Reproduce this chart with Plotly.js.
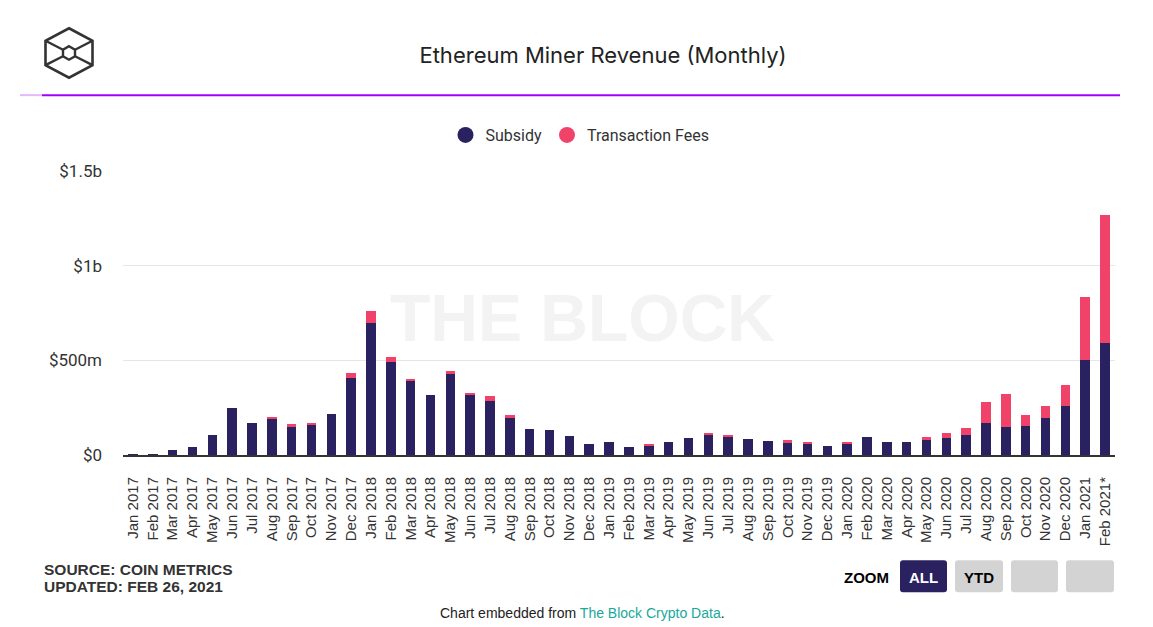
<!DOCTYPE html>
<html><head><meta charset="utf-8">
<script src="https://cdn.plot.ly/plotly-3.0.1.min.js"></script>
<style>html,body{margin:0;padding:0;background:#fff;overflow:hidden}#chart{width:1153px;height:627px}</style>
</head><body><div id="chart"></div>
<script>
// Monthly categories
const months = ["Jan 2017","Feb 2017","Mar 2017","Apr 2017","May 2017","Jun 2017","Jul 2017","Aug 2017","Sep 2017","Oct 2017","Nov 2017","Dec 2017",
"Jan 2018","Feb 2018","Mar 2018","Apr 2018","May 2018","Jun 2018","Jul 2018","Aug 2018","Sep 2018","Oct 2018","Nov 2018","Dec 2018",
"Jan 2019","Feb 2019","Mar 2019","Apr 2019","May 2019","Jun 2019","Jul 2019","Aug 2019","Sep 2019","Oct 2019","Nov 2019","Dec 2019",
"Jan 2020","Feb 2020","Mar 2020","Apr 2020","May 2020","Jun 2020","Jul 2020","Aug 2020","Sep 2020","Oct 2020","Nov 2020","Dec 2020",
"Jan 2021","Feb 2021*"];
// Subsidy revenue, USD millions
const subsidy = [5,5,28,44,105,247,168,193,153,161,217,405,
698,493,391,319,430,319,287,200,138,130,100,60,
68,44,51,68,91,105,98,84,76,68,60,46,
60,93,68,68,84,91,107,170,147,154,195,258,
504,589];
// Transaction fee revenue, USD millions
const fees = [0,0,0,0,0,0,0,8,10,9,0,27,
63,23,9,0,15,9,25,10,0,0,0,0,
0,0,9,0,0,11,9,0,0,9,8,0,
8,0,0,0,9,27,33,112,174,57,63,110,
329,679];
// Y axis ticks
const yTickVals = [0,500,1000,1500];
const yTickText = ["$0","$500m","$1b","$1.5b"];

const SUB_COLOR = "#2a2160", FEE_COLOR = "#f1426a";
const L=123, R=1115, T=171, B=455.5;
const px = x => (x-L)/(R-L);
const py = y => (B-y)/(B-T);

const traces = [
  {type:"bar", x:months, y:subsidy, name:"Subsidy", marker:{color:SUB_COLOR, line:{width:0}}, showlegend:false, hoverinfo:"x+y"},
  {type:"bar", x:months, y:fees, name:"Transaction Fees", marker:{color:FEE_COLOR, line:{width:0}}, showlegend:false, hoverinfo:"x+y"},
  {type:"scatter", mode:"markers", x:[null], y:[null], name:"Subsidy", marker:{color:SUB_COLOR, size:16, symbol:"circle"}},
  {type:"scatter", mode:"markers", x:[null], y:[null], name:"Transaction Fees", marker:{color:FEE_COLOR, size:16, symbol:"circle"}}
];

function line(x0,y0,x1,y1,color,w){return {type:"line",xref:"paper",yref:"paper",x0:px(x0),y0:py(y0),x1:px(x1),y1:py(y1),line:{color:color,width:w},layer:"above"};}
function rrect(x0,y0,x1,y1,r,fill){
  const p=(x,y)=>px(x)+","+py(y);
  const path="M"+p(x0+r,y0)+" L"+p(x1-r,y0)+" Q"+p(x1,y0)+" "+p(x1,y0+r)+" L"+p(x1,y1-r)+" Q"+p(x1,y1)+" "+p(x1-r,y1)+
    " L"+p(x0+r,y1)+" Q"+p(x0,y1)+" "+p(x0,y1-r)+" L"+p(x0,y0+r)+" Q"+p(x0,y0)+" "+p(x0+r,y0)+" Z";
  return {type:"path",xref:"paper",yref:"paper",path:path,fillcolor:fill,line:{width:0},layer:"above"};
}
function poly(pts,color,w){
  const path="M"+pts.map(q=>px(q[0])+","+py(q[1])).join(" L")+" Z";
  return {type:"path",xref:"paper",yref:"paper",path:path,line:{color:color,width:w},fillcolor:"rgba(0,0,0,0)",layer:"above"};
}

const LOGO="#333333";
const outer=[[69,28],[92.5,40.5],[92.5,65],[69,77.5],[45.5,65],[45.5,40.5]];
const inner=[[69,46],[75,49.5],[75,56],[69,59.5],[63,56],[63,49.5]];
const shapes = [
  line(20,95,42,95,"#e2b8ff",2),
  line(42,95,1120,95,"#a100ff",2),
  poly(outer,LOGO,2.6),
  poly(inner,LOGO,2.4),
  line(45.5,40.5,63,49.5,LOGO,2.4),
  line(92.5,40.5,75,49.5,LOGO,2.4),
  line(45.5,65,63,56,LOGO,2.4),
  line(92.5,65,75,56,LOGO,2.4),
  rrect(900,561,947,593,3,"#2a2160"),
  rrect(955,561,1003,593,3,"#d3d3d3"),
  rrect(1011,561,1058,593,3,"#d3d3d3"),
  rrect(1066,561,1114,593,3,"#d3d3d3")
];

function ann(text,x,y,opts){return Object.assign({text:text,xref:"paper",yref:"paper",x:px(x),y:py(y),showarrow:false,xanchor:"left",yanchor:"middle"},opts);}
const annotations = [
  ann("THE BLOCK",582,318,{xanchor:"center",font:{family:"Liberation Sans, Arial",size:66,color:"#f3f3f3",weight:"bold"}}),
  ann("<b>SOURCE: COIN METRICS</b>",42,570,{font:{family:"Liberation Sans, Arial",size:15.5,color:"#333"}}),
  ann("<b>UPDATED: FEB 26, 2021</b>",42,587,{font:{family:"Liberation Sans, Arial",size:15.5,color:"#333"}}),
  ann("<b>ZOOM</b>",866,578,{xanchor:"center",font:{family:"Liberation Sans, Arial",size:15,color:"#000"}}),
  ann("<b>ALL</b>",923.5,578,{xanchor:"center",font:{family:"Liberation Sans, Arial",size:15,color:"#fff"}}),
  ann("<b>YTD</b>",979,578,{xanchor:"center",font:{family:"Liberation Sans, Arial",size:15,color:"#000"}}),
  ann("Chart embedded from <span style='color:#19a89b'>The Block Crypto Data</span>.",582,614,{xanchor:"center",font:{family:"Liberation Sans, Arial",size:14,color:"#222"}})
];

const layout = {
  width:1153, height:627,
  margin:{l:L, r:1153-R, t:T, b:627-B, pad:0},
  paper_bgcolor:"#fff", plot_bgcolor:"#fff",
  barmode:"stack", bargap:0.52,
  title:{text:"Ethereum Miner Revenue (Monthly)", x:603/1153, xanchor:"center", xref:"container", y:1-55/627, yanchor:"middle", yref:"container",
    font:{family:"Inter, Open Sans, sans-serif", size:22, color:"#222"}},
  showlegend:true,
  legend:{orientation:"h", traceorder:"normal", x:px(580), xanchor:"center", y:py(135), yanchor:"middle", font:{family:"Roboto, sans-serif", size:16, color:"#333"}, bgcolor:"rgba(0,0,0,0)"},
  xaxis:{type:"category", tickangle:-90, showgrid:false, showline:true, linecolor:"#333", linewidth:2, ticks:"", ticklabelstandoff:14,
    tickfont:{family:"Liberation Sans, Arial", size:15, color:"#333"}, fixedrange:true},
  yaxis:{range:[0,1500], tickvals:yTickVals, ticktext:yTickText, showgrid:true, gridcolor:"#e6e6e6", gridwidth:1, zeroline:false, showline:false,
    ticks:"", ticklabelstandoff:20, tickfont:{family:"Roboto, sans-serif", size:17, color:"#333"}, fixedrange:true},
  shapes:shapes, annotations:annotations,
  hovermode:"closest"
};
Plotly.newPlot("chart", traces, layout, {displayModeBar:false});
</script>
</body></html>
